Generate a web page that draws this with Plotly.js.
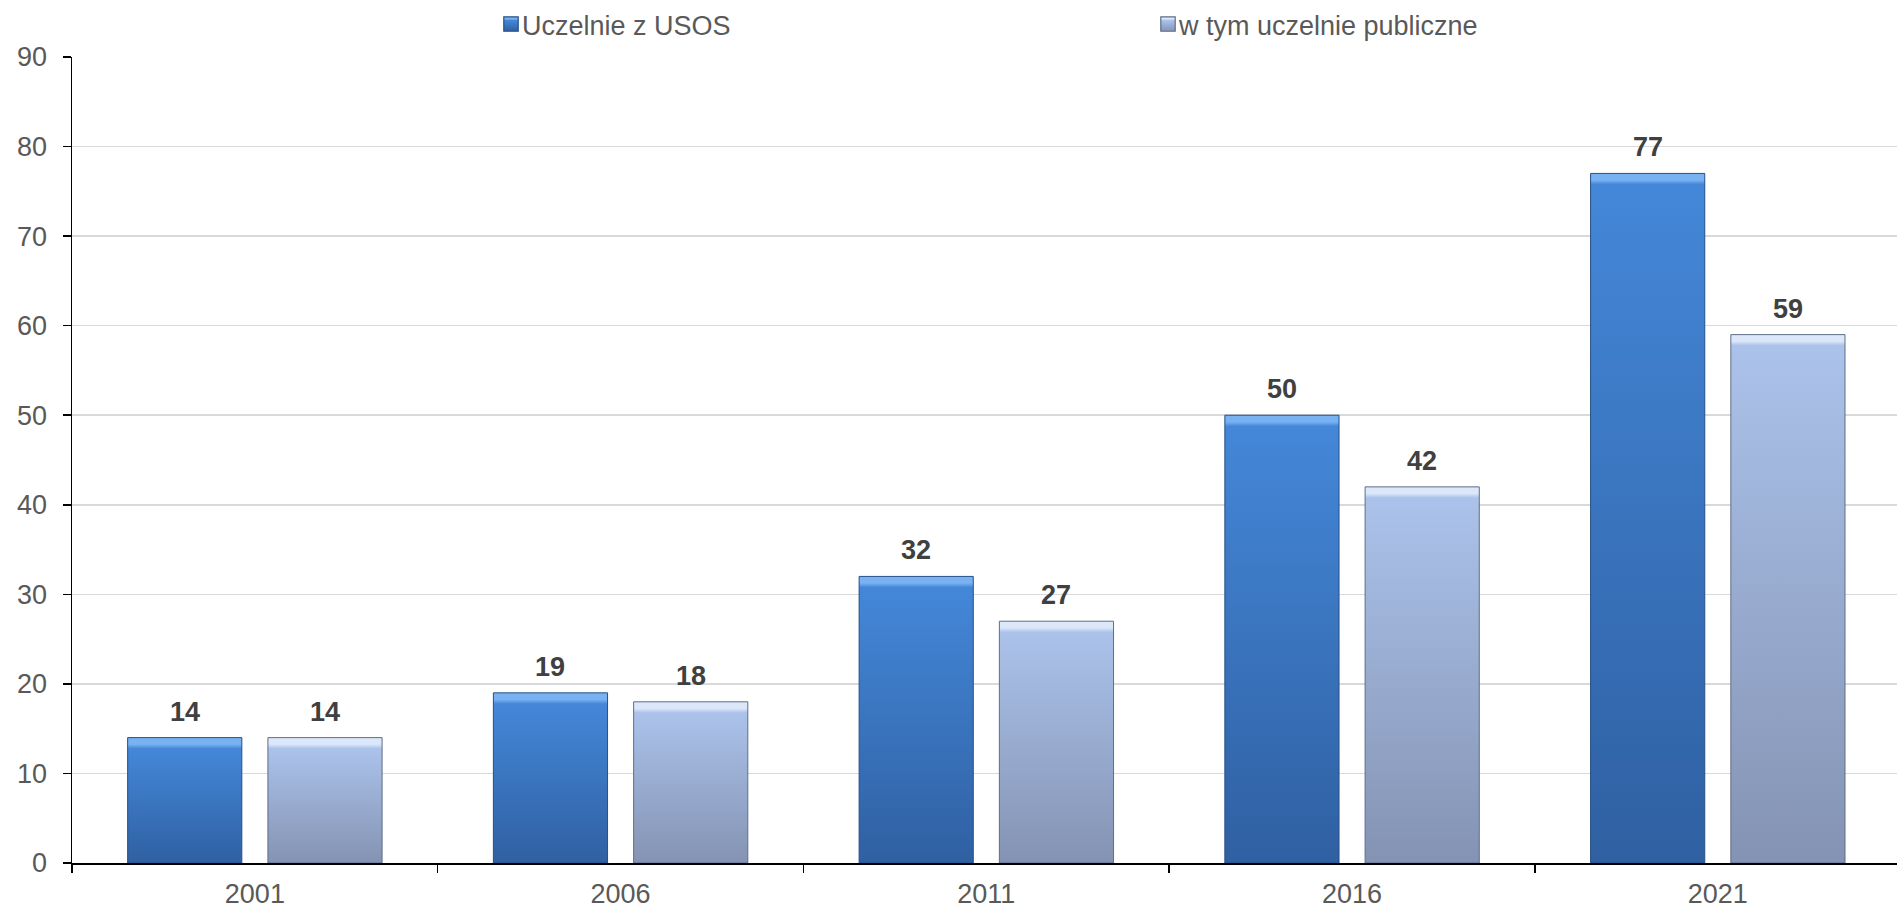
<!DOCTYPE html>
<html>
<head>
<meta charset="utf-8">
<script src="https://cdn.plot.ly/plotly-3.0.1.min.js"></script>
<style>
  html, body { margin: 0; padding: 0; background: #ffffff; }
  #chart { width: 1897px; height: 909px; }
</style>
</head>
<body>
<div id="chart"></div>
<script>
const categories = ["2001", "2006", "2011", "2016", "2021"];
const seriesNames = ["Uczelnie z USOS", "w tym uczelnie publiczne"];
const usosValues = [14, 19, 32, 50, 77];
const publicValues = [14, 18, 27, 42, 59];
const yTickValues = [0, 10, 20, 30, 40, 50, 60, 70, 80, 90];

const W = 1897, H = 909;
const margin = { l: 72, r: 0, t: 57, b: 46 };
const bargap = 0.233;
const bargroupgap = 0.186;
const xRange = [-0.5, 4.49];

const blue = "#3f7fd0";
const lightBlue = "#a3b8e0";
const textGray = "#595959";
const labelGray = "#404040";
const fontFamily = "Liberation Sans, Arial, sans-serif";
const plotW = W - margin.l - margin.r;
const catW = plotW / (xRange[1] - xRange[0]);
const barOffset = catW * (1 - bargap) / 4;

function barTrace(name, values, color, lineColor) {
  return {
    type: "bar",
    name: name,
    x: categories,
    y: values,
    marker: { color: color, line: { color: lineColor, width: 1 } },
    hoverinfo: "x+y"
  };
}

const traces = [
  barTrace(seriesNames[0], usosValues, blue, "#254f86"),
  barTrace(seriesNames[1], publicValues, lightBlue, "#5f6d88")
];

const annotations = [];
[usosValues, publicValues].forEach(function (vals, si) {
  vals.forEach(function (v, i) {
    annotations.push({
      xref: "x",
      yref: "y",
      x: i,
      y: v,
      text: "<b>" + v + "</b>",
      showarrow: false,
      xanchor: "center",
      yanchor: "middle",
      xshift: si === 0 ? -barOffset : barOffset,
      yshift: 26,
      font: { family: fontFamily, size: 27, color: labelGray }
    });
  });
});

const layout = {
  width: W,
  height: H,
  margin: margin,
  paper_bgcolor: "#ffffff",
  plot_bgcolor: "#ffffff",
  barmode: "group",
  bargap: bargap,
  bargroupgap: bargroupgap,
  font: { family: fontFamily, size: 27, color: textGray },
  showlegend: true,
  legend: {
    orientation: "h",
    x: (482 - margin.l) / plotW,
    xanchor: "left",
    y: 1,
    yref: "container",
    yanchor: "top",
    entrywidth: 612,
    entrywidthmode: "pixels",
    font: { family: fontFamily, size: 27, color: textGray },
    bgcolor: "rgba(0,0,0,0)",
    traceorder: "normal"
  },
  xaxis: {
    type: "category",
    range: xRange,
    showgrid: false,
    zeroline: false,
    showline: true,
    linecolor: "#000000",
    linewidth: 1.5,
    ticks: "outside",
    tickson: "boundaries",
    ticklen: 8,
    tickwidth: 1.5,
    tickcolor: "#000000",
    ticklabelstandoff: 6,
    tickfont: { family: fontFamily, size: 27, color: textGray },
    fixedrange: true
  },
  yaxis: {
    range: [0, 90],
    tickvals: yTickValues,
    ticktext: yTickValues.map(String),
    showgrid: true,
    gridcolor: "#d9d9d9",
    gridwidth: 1.5,
    zeroline: false,
    showline: true,
    linecolor: "#000000",
    linewidth: 1.5,
    ticks: "outside",
    ticklen: 8,
    tickwidth: 1.5,
    tickcolor: "#000000",
    ticklabelstandoff: 10,
    tickfont: { family: fontFamily, size: 27, color: textGray },
    fixedrange: true
  },
  annotations: annotations
};

const palettes = [
  { strip: "#79b2f2", top: "#4487d8", bottom: "#2f60a2" },
  { strip: "#dce7f9", top: "#abc2ea", bottom: "#8493b3" }
];

function makeGradient(defs, id, pal, f) {
  const g = document.createElementNS("http://www.w3.org/2000/svg", "linearGradient");
  g.setAttribute("id", id);
  g.setAttribute("x1", "0"); g.setAttribute("y1", "0");
  g.setAttribute("x2", "0"); g.setAttribute("y2", "1");
  [[0, pal.strip], [f * 0.6, pal.strip], [f, pal.top], [1, pal.bottom]].forEach(function (st) {
    const s = document.createElementNS("http://www.w3.org/2000/svg", "stop");
    s.setAttribute("offset", st[0]);
    s.setAttribute("stop-color", st[1]);
    g.appendChild(s);
  });
  defs.appendChild(g);
}

function applyStyling(gd) {
  const svg = gd.querySelector(".main-svg");
  if (!svg) return;
  let defs = svg.querySelector("defs");
  if (!defs) {
    defs = document.createElementNS("http://www.w3.org/2000/svg", "defs");
    svg.insertBefore(defs, svg.firstChild);
  }
  gd.querySelectorAll(".barlayer .trace").forEach(function (tg, ti) {
    const pal = palettes[ti] || palettes[0];
    tg.querySelectorAll(".point path").forEach(function (p, pi) {
      let h = 100;
      try { h = p.getBBox().height || 100; } catch (e) {}
      const id = "bargrad_" + ti + "_" + pi;
      makeGradient(defs, id, pal, Math.min(0.4, 11 / h));
      p.style.setProperty("fill", "url(#" + id + ")");
    });
  });
  // legend symbols: slightly larger, closer to the text, with the same shading
  gd.querySelectorAll(".legend .traces").forEach(function (tr, ti) {
    const pts = tr.querySelector(".legendpoints");
    if (!pts) return;
    if (!pts.getAttribute("transform")) {
      pts.setAttribute("transform", "translate(29,0) scale(1.2) translate(-20,0)");
    }
    const pal = palettes[ti] || palettes[0];
    const id = "leggrad_" + ti;
    makeGradient(defs, id, pal, 0.25);
    pts.querySelectorAll("path").forEach(function (p) {
      p.style.setProperty("fill", "url(#" + id + ")");
    });
  });
}

Plotly.newPlot("chart", traces, layout, { displayModeBar: false, staticPlot: true })
  .then(function (gd) { applyStyling(gd); });
</script>
</body>
</html>
